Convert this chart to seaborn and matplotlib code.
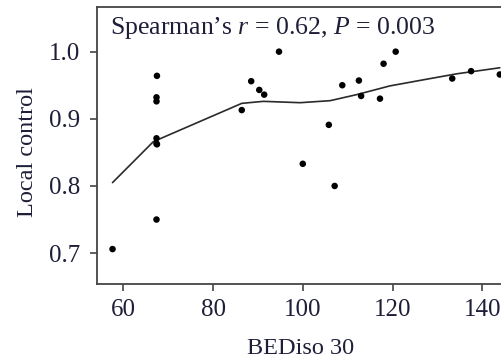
import matplotlib
matplotlib.use("Agg")
import matplotlib.pyplot as plt
import seaborn as sns
import pandas as pd

# Data points (BEDiso 30, local control)
bed = [57.6, 67.4, 67.5, 67.4, 67.4, 67.4, 67.4, 67.5,
       86.4, 88.5, 90.3, 91.4, 94.7, 100.0, 105.8, 107.1,
       108.8, 112.5, 113.0, 117.2, 118.0, 120.7, 133.3, 137.5, 143.9]
local_control = [0.706, 0.750, 0.964, 0.932, 0.926, 0.871, 0.863, 0.862,
                 0.913, 0.956, 0.943, 0.936, 1.000, 0.833, 0.891, 0.800,
                 0.950, 0.957, 0.934, 0.930, 0.982, 1.000, 0.960, 0.971, 0.966]

# Smoothed fit curve
fit_x = [57.6, 66.7, 86.4, 91.2, 99.4, 106.1, 112.0, 119.4, 126.8, 134.3, 143.9]
fit_y = [0.805, 0.866, 0.923, 0.926, 0.924, 0.927, 0.936, 0.949, 0.958, 0.967, 0.976]

x_ticks = [60, 80, 100, 120, 140]
y_ticks = [0.7, 0.8, 0.9, 1.0]
annotation = "Spearman\u2019s $r$ = 0.62, $P$ = 0.003"
x_label = "BEDiso 30"
y_label = "Local control"

sns.set_theme(style="ticks")
plt.rcParams["font.family"] = ["Liberation Serif", "DejaVu Serif"]
plt.rcParams["mathtext.fontset"] = "custom"
plt.rcParams["mathtext.rm"] = "Liberation Serif"
plt.rcParams["mathtext.it"] = "Liberation Serif:italic"

text_color = "#1e1e38"
spine_color = "#444444"

fig = plt.figure(figsize=(5.02, 3.63), dpi=100)
ax = fig.add_axes([97 / 502, (363 - 284) / 363, (505 - 97) / 502, (284 - 7) / 363])

pts = pd.DataFrame({"x": bed, "y": local_control})
fit = pd.DataFrame({"x": fit_x, "y": fit_y})

sns.lineplot(data=fit, x="x", y="y", ax=ax, color="#2a2a2a", linewidth=1.2, sort=False)
sns.scatterplot(data=pts, x="x", y="y", ax=ax, color="black", s=22,
                edgecolor="none", zorder=3)

ax.set_xlim(54.14, 145.06)
ax.set_ylim(0.654, 1.0665)
ax.set_xticks(x_ticks)
ax.set_yticks(y_ticks)
ax.set_yticklabels([f"{v:.1f}" for v in y_ticks])
ax.tick_params(axis="both", labelsize=18, colors=spine_color, labelcolor=text_color,
               length=5, width=1.2, direction="out")
ax.tick_params(axis="x", pad=6)
ax.tick_params(axis="y", pad=7)
ax.set_xlabel(x_label, fontsize=17.5, color=text_color, labelpad=12)
ax.set_ylabel(y_label, fontsize=17.5, color=text_color)
ax.yaxis.set_label_coords(-0.145, 0.475)

for side in ["left", "bottom", "top", "right"]:
    ax.spines[side].set_visible(True)
    ax.spines[side].set_color(spine_color)
    ax.spines[side].set_linewidth(1.3)

ax.text(0.032, 0.972, annotation, transform=ax.transAxes, fontsize=18.5,
        color=text_color, ha="left", va="top")

fig.savefig("out.png", dpi=100)
